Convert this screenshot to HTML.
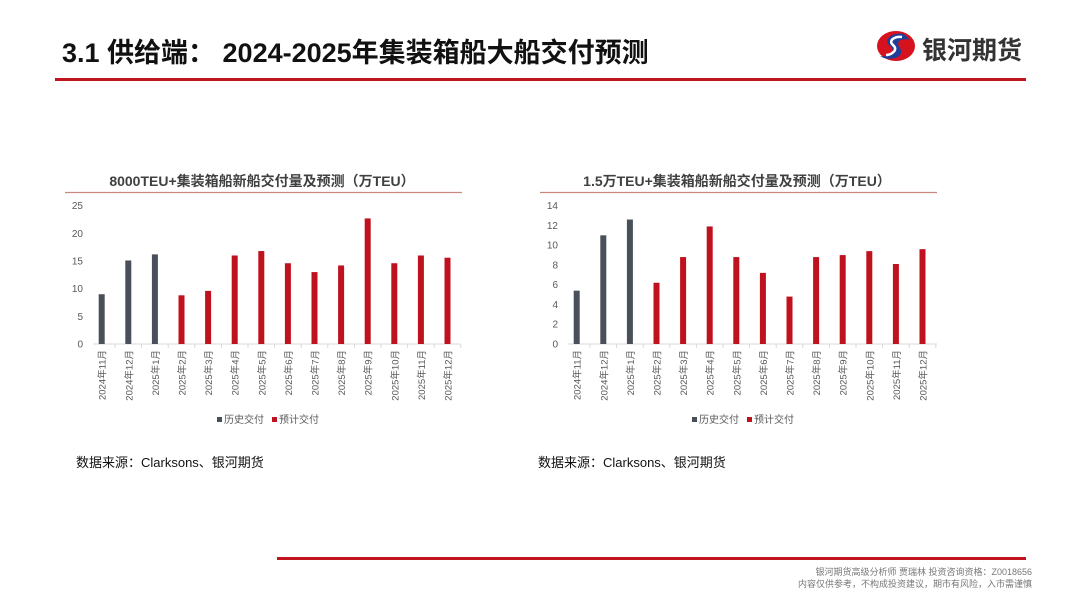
<!DOCTYPE html>
<html><head><meta charset="utf-8">
<style>
body{margin:0;width:1080px;height:608px;background:#fff;overflow:hidden;position:relative;font-family:"Liberation Sans","Noto Sans CJK SC",sans-serif}
.abs{position:absolute}
</style></head><body>
<div class="abs" style="left:62px;top:31px;font-size:27px;font-weight:bold;color:#111;white-space:nowrap">3.1 供给端：  2024-2025年集装箱船大船交付预测</div>
<svg class="abs" style="left:874px;top:28px" width="44" height="36" viewBox="0 0 44 36">
<ellipse cx="22" cy="18" rx="19" ry="15" fill="#d6121f"/>
<path d="M30 6 C18 4 8 12 16 18 C24 24 12 30 6 28 C14 34 32 30 26 20 C20 12 30 10 36 12 Z" fill="#1d3f9a"/>
<path d="M28 9 C20 8 14 13 19 17 C25 22 17 27 12 27" stroke="#fff" stroke-width="2.5" fill="none"/>
</svg>
<div class="abs" style="left:922px;top:31px;font-size:25px;font-weight:bold;color:#333">银河期货</div>
<div class="abs" style="left:55px;top:78px;width:971px;height:3px;background:#c0151f"></div>
<div class="abs" style="left:277px;top:557px;width:749px;height:3px;background:#c0151f"></div>
<div class="abs" style="right:48px;top:566px;font-size:9px;color:#777;text-align:right;line-height:12px">银河期货高级分析师 贾瑞林 投资咨询资格：Z0018656<br>内容仅供参考，不构成投资建议，期市有风险，入市需谨慎</div>
<div class="abs" style="left:76px;top:452px;font-size:13px;color:#111">数据来源：Clarksons、银河期货</div>
<div class="abs" style="left:538px;top:452px;font-size:13px;color:#111">数据来源：Clarksons、银河期货</div>
<svg id="chart" class="abs" style="left:0;top:0" width="1080" height="608"></svg>
<script>
const categories=["2024年11月","2024年12月","2025年1月","2025年2月","2025年3月","2025年4月","2025年5月","2025年6月","2025年7月","2025年8月","2025年9月","2025年10月","2025年11月","2025年12月"];
const historyCount=3;
const values8000=[9.0,15.1,16.2,8.8,9.6,16.0,16.8,14.6,13.0,14.2,22.7,14.6,16.0,15.6];
const values15k=[5.4,11.0,12.6,6.2,8.8,11.9,8.8,7.2,4.8,8.8,9.0,9.4,8.1,9.6];
const ticks8000=[0,5,10,15,20,25];
const ticks15k=[0,2,4,6,8,10,12,14];
const svg=document.getElementById('chart');
const NS='http://www.w3.org/2000/svg';
function mk(tag,attrs,parent){const e=document.createElementNS(NS,tag);for(const k in attrs)e.setAttribute(k,attrs[k]);(parent||svg).appendChild(e);return e;}
function draw(cfg){
  const g=mk('g',{});
  
  
  const y0=344,yTop=205.7,max=cfg.ticks[cfg.ticks.length-1];
  const y=v=>y0-(v/max)*(y0-yTop);
  const x=i=>cfg.first+i*26.6;
  const t=mk('text',{x:cfg.titleX,y:186,'font-size':14,'font-weight':'bold',fill:'#404040','text-anchor':'middle'},g);
  t.textContent=cfg.title;
  
  
  const ul=mk('line',{x1:cfg.ulx1,x2:cfg.ulx2,y1:192.5,y2:192.5,stroke:'#c9877f','stroke-width':1.3},g);
  
  
  cfg.ticks.forEach(v=>{const tt=mk('text',{x:cfg.axisX-10,y:y(v)+3.5,'font-size':10,fill:'#595959','text-anchor':'end'},g);tt.textContent=v;
    
    });
  const ax=mk('line',{x1:cfg.axisX,x2:cfg.axisEnd,y1:y0,y2:y0,stroke:'#d9d9d9','stroke-width':1},g);
  
  
  cfg.values.forEach((v,i)=>{
    const r=mk('rect',{x:x(i)-3,y:y(v),width:6,height:y0-y(v),fill:i<historyCount?'#4a5059':'#c0111e'},g);
    
    
    const tk=mk('line',{x1:x(i)+13.3,x2:x(i)+13.3,y1:y0,y2:y0+4,stroke:'#d9d9d9'},g);
    const lb=mk('text',{transform:`translate(${x(i)+4},${y0+6}) rotate(-90)`,'font-size':9.5,fill:'#595959','text-anchor':'end'},g);
    lb.textContent=categories[i];
    
    
  });
  const lx=cfg.legendX;
  const l1=mk('rect',{x:lx,y:417,width:5,height:5,fill:'#4a5059'},g);
  const lt1=mk('text',{x:lx+7,y:423,'font-size':10,fill:'#595959'},g);lt1.textContent='历史交付';
  
  
  const l2=mk('rect',{x:lx+55,y:417,width:5,height:5,fill:'#c0111e'},g);
  const lt2=mk('text',{x:lx+62,y:423,'font-size':10,fill:'#595959'},g);lt2.textContent='预计交付';
  
  
}
draw({name:'chart-8000teu',title:'8000TEU+集装箱船新船交付量及预测（万TEU）',titleX:262,ulx1:65,ulx2:462,values:values8000,ticks:ticks8000,first:101.7,axisX:93,axisEnd:460,legendX:217});
draw({name:'chart-15kteu',title:'1.5万TEU+集装箱船新船交付量及预测（万TEU）',titleX:737,ulx1:540,ulx2:937,values:values15k,ticks:ticks15k,first:576.7,axisX:568,axisEnd:937,legendX:692});
</script>
</body></html>
